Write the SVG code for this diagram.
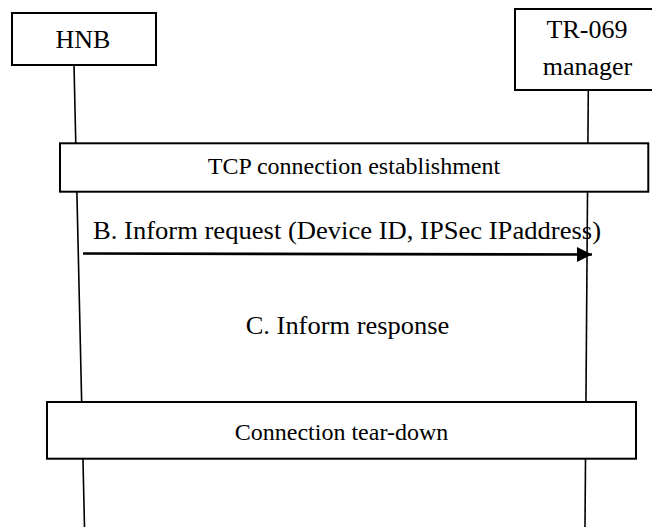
<svg xmlns="http://www.w3.org/2000/svg" width="652" height="527" viewBox="0 0 652 527">
<style>
.box{fill:#fff;stroke:#000;stroke-width:2}
.life{fill:none;stroke:#000;stroke-width:1.6}
.msg{fill:none;stroke:#000;stroke-width:2.6}
.t26{font-family:'Liberation Serif','DejaVu Serif','Times New Roman',serif;font-size:26px;fill:#000}
.t24{font-family:'Liberation Serif','DejaVu Serif','Times New Roman',serif;font-size:24px;fill:#000}
</style>
<defs>
<marker id="arr" markerUnits="userSpaceOnUse" markerWidth="16" markerHeight="16" viewBox="0 0 16 16" refX="15" refY="8" orient="auto">
<path d="M0,0.5 L15,8 L0,15.5 Z" fill="#000"/>
</marker>
</defs>
<rect width="652" height="527" fill="#fff"/>
<g id="lifelines">
<line class="life" x1="74" y1="65" x2="84.5" y2="527"/>
<line class="life" x1="588.3" y1="90" x2="585" y2="527"/>
</g>
<g id="hnb">
<rect class="box" x="12" y="13" width="144" height="52"/>
<text class="t26" font-family="Liberation Serif, serif" x="83" y="47.5" text-anchor="middle">HNB</text>
</g>
<g id="tr069">
<rect class="box" x="515" y="9" width="142" height="81"/>
<text class="t26" font-family="Liberation Serif, serif" x="587" y="38" text-anchor="middle">TR-069</text>
<text class="t26" font-family="Liberation Serif, serif" x="587.5" y="75" text-anchor="middle">manager</text>
</g>
<g id="tcp">
<rect class="box" x="60" y="143.3" width="588.3" height="48.4"/>
<text class="t24" font-family="Liberation Serif, serif" x="354" y="174" text-anchor="middle">TCP connection establishment</text>
</g>
<g id="teardown">
<rect class="box" x="47" y="402" width="589" height="56.7"/>
<text class="t24" font-family="Liberation Serif, serif" x="341.5" y="439.5" text-anchor="middle">Connection tear-down</text>
</g>
<g id="connectors">
<line class="msg" x1="83" y1="253.5" x2="592" y2="254.5" marker-end="url(#arr)"/>
<text class="t26" font-family="Liberation Serif, serif" x="93" y="239" textLength="508" lengthAdjust="spacingAndGlyphs">B. Inform request (Device ID, IPSec IPaddress)</text>
<text class="t26" font-family="Liberation Serif, serif" x="245.7" y="334" textLength="203.6" lengthAdjust="spacingAndGlyphs">C. Inform response</text>
</g>
</svg>
